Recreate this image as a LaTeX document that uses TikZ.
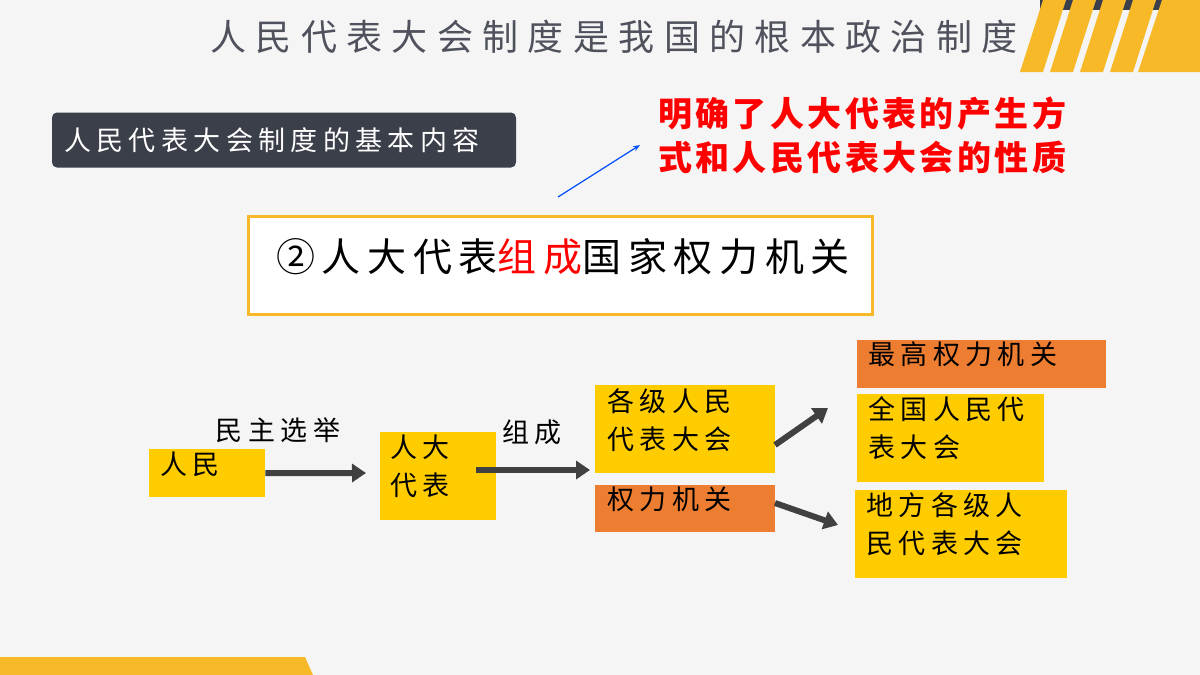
\documentclass[tikz,border=0pt]{standalone}
\usepackage{fontspec}
\setmainfont{Noto Sans CJK SC}
\usetikzlibrary{arrows.meta}
\definecolor{ybox}{HTML}{FFCC00}
\definecolor{obox}{HTML}{ED7D31}
\definecolor{stripe}{HTML}{F7B928}
\definecolor{darkbar}{HTML}{3B3F4A}
\newcommand{\bodyfont}{\fontsize{27}{38}\selectfont\addfontfeatures{LetterSpace=20}}
\tikzset{
 yb/.style={fill=ybox,draw=none,anchor=north west,inner sep=0pt},
 ob/.style={yb,fill=obox},
 bt/.style={anchor=north west,font=\bodyfont,inner sep=0pt,align=left},
 fat/.style={draw=black!75,line width=6pt,-{Triangle[length=14pt,width=18pt]}},
}
\begin{document}
\begin{tikzpicture}[x=1pt,y=-1pt]
\useasboundingbox (0,0) rectangle (1200,675);
\fill[white!96!black] (0,0) rectangle (1200,675);
% top-right decoration
\fill[darkbar] (1040,0) rectangle (1170,10);
\foreach \a in {1020,1050,1080,1110}{\fill[stripe] (\a,72) -- (\a+23,72) -- (\a+46,0) -- (\a+23,0) -- cycle;}
\fill[stripe] (1138,72) -- (1200,72) -- (1200,0) -- (1162,0) -- cycle;
\fill[stripe] (0,657) -- (305,657) -- (313,675) -- (0,675) -- cycle;
\node (title) at (614,37) {\fontsize{36}{38}\selectfont\addfontfeatures{LetterSpace=26}\color{darkbar!90}人民代表大会制度是我国的根本政治制度};
\node[fill=darkbar,rounded corners=5pt,minimum width=464pt,minimum height=55pt,text=white,font=\bodyfont,inner xsep=12pt,text width=440pt,align=left] (basic) at (284,140) {人民代表大会制度的基本内容};
\node[text=red,font=\fontsize{34}{44}\selectfont\bfseries\addfontfeatures{LetterSpace=10},align=left,anchor=north west,inner sep=0pt] (red) at (658,97) {明确了人大代表的产生方\\式和人民代表大会的性质};
\node[draw=stripe,line width=3pt,fill=white,minimum width=624pt,minimum height=98pt] (main) at (560,265) {};
\node[font=\fontsize{39}{40}\selectfont\addfontfeatures{LetterSpace=17}] (maintext) at (563,257) {②人大代表{\color{red}组成}国家权力机关};
\coordinate (bs) at (558,197);
\coordinate (be) at (640,145);
\draw[blue!70!cyan,line width=1.2pt,-{Stealth[length=7pt]}] (bs) -- (be);
% boxes
\node[yb,minimum width=116pt,minimum height=48pt] (people) at (149,449) {};
\node[bt] at (160,452) {人民};
\node[yb,minimum width=116pt,minimum height=88pt] (rep) at (380,432) {};
\node[bt] at (390,435) {人大\\代表};
\node[yb,minimum width=180pt,minimum height=88pt] (cong) at (595,385) {};
\node[bt] at (607,388) {各级人民\\代表大会};
\node[ob,minimum width=180pt,minimum height=47pt] (power) at (595,485) {};
\node[bt] at (607,487) {权力机关};
\node[ob,minimum width=249pt,minimum height=48pt] (top) at (857,340) {};
\node[bt] at (868,342) {最高权力机关};
\node[yb,minimum width=187pt,minimum height=88pt] (npc) at (857,394) {};
\node[bt] at (868,396) {全国人民代\\表大会};
\node[yb,minimum width=212pt,minimum height=88pt] (local) at (855,490) {};
\node[bt] at (866,492) {地方各级人\\民代表大会};
\node[font=\bodyfont] (l1) at (278,430) {民主选举};
\node[font=\bodyfont] (l2) at (532,432) {组成};
\coordinate (a1) at (366,473);
\coordinate (a2) at (590,470);
\coordinate (a3) at (828,408);
\coordinate (a4) at (838,525);
\draw[fat] (people.east) -- (a1);
\draw[fat] (476,470) -- (a2);
\draw[fat] (775,445) -- (a3);
\draw[fat] (775,503) -- (a4);
\end{tikzpicture}
\end{document}
